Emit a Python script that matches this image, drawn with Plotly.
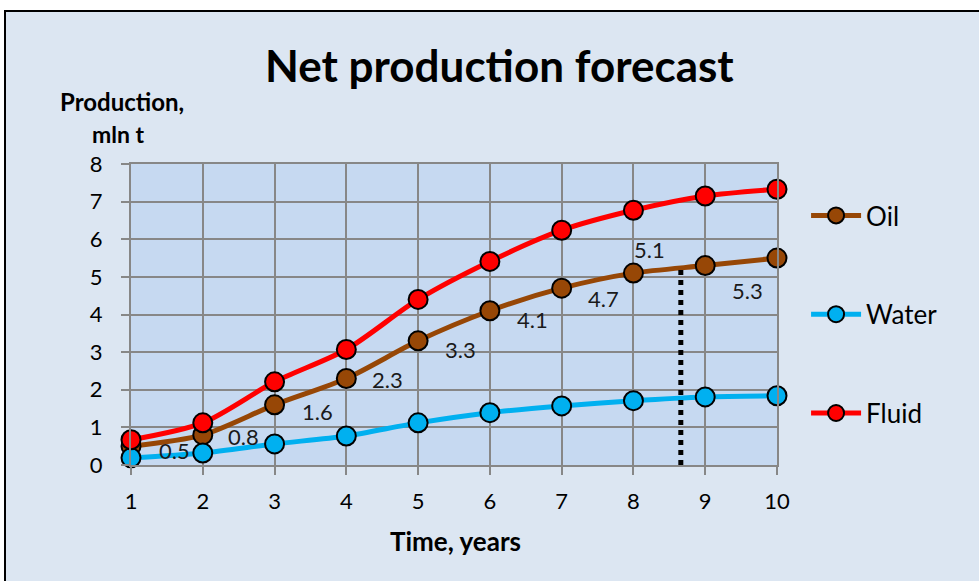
import plotly.graph_objects as go

# Forecast years
years = [1, 2, 3, 4, 5, 6, 7, 8, 9, 10]

# Net production, mln t
oil = [0.5, 0.8, 1.6, 2.3, 3.3, 4.1, 4.7, 5.1, 5.3, 5.5]
water = [0.19, 0.32, 0.56, 0.77, 1.12, 1.39, 1.57, 1.71, 1.81, 1.84]
fluid = [0.67, 1.12, 2.21, 3.07, 4.40, 5.41, 6.24, 6.77, 7.15, 7.33]

# Which oil points carry a value label (last one is unlabeled)
oil_labelled = [True, True, True, True, True, True, True, True, True, False]

# Marker of the forecast boundary
boundary_year = 8.66
boundary_top = 5.2

FONT = "Lato, 'Open Sans', sans-serif"
GRID = "#878787"

# Plot-area geometry in pixels
L, R, T, B = 131, 777, 164, 465
W, H = R - L, B - T


def px_x(p):
    return (p - L) / W


def px_y(p):
    return (B - p) / H


fig = go.Figure()

series = [
    ("Oil", oil, "#974706"),
    ("Water", water, "#00b0f0"),
    ("Fluid", fluid, "#ff0000"),
]
for name, vals, col in series:
    fig.add_trace(go.Scatter(
        x=years, y=vals, name=name, legendgroup=name,
        mode="lines+markers",
        line=dict(color=col, width=5, shape="spline", smoothing=0.8),
        marker=dict(size=19, color=col, line=dict(color="black", width=2)),
        cliponaxis=False,
    ))

# Vertical dotted line marking the boundary
fig.add_trace(go.Scatter(
    x=[boundary_year, boundary_year], y=[0, boundary_top],
    mode="lines", line=dict(color="black", width=5, dash="dot"),
    showlegend=False, hoverinfo="skip",
))

# Label offsets (px) for each oil value label
label_shift = [(43, -4), (41, -2), (43, -7), (41, -1), (42, -9),
               (43, -9), (42, -10), (16, 24), (42, -25), (0, 0)]

annotations = []
for x, v, show, (dx, dy) in zip(years, oil, oil_labelled, label_shift):
    if not show:
        continue
    annotations.append(dict(
        x=x, y=v, xref="x", yref="y", text=f"{v:.1f}", showarrow=False,
        xshift=dx, yshift=dy, xanchor="center", yanchor="middle",
        font=dict(family=FONT, size=22, color="#1a1a1a"),
    ))


def label(text, x, y, size):
    return dict(x=px_x(x), y=px_y(y), xref="paper", yref="paper",
                text=text, showarrow=False, xanchor="center", yanchor="middle",
                font=dict(family=FONT, size=size, color="black"))


annotations += [
    label("<b>Production,</b>", 122, 101, 24),
    label("<b>mln t</b>", 118, 134, 23),
    label("<b>Time, years</b>", 455, 541, 26),
    label("<b>Net production forecast</b>", 499, 65, 44),
]

shapes = [
    # chart area fill with border
    dict(type="rect", xref="paper", yref="paper", layer="below",
         x0=px_x(5), x1=px_x(990), y0=px_y(600), y1=px_y(11),
         fillcolor="#dce6f2", line=dict(color="black", width=2)),
    # plot area fill
    dict(type="rect", xref="paper", yref="paper", layer="below",
         x0=0, x1=1, y0=0, y1=1, fillcolor="#c6d9f1", line=dict(width=0)),
]

fig.update_layout(
    width=979, height=581,
    margin=dict(l=L, r=979 - R, t=T, b=581 - B),
    paper_bgcolor="white",
    plot_bgcolor="rgba(0,0,0,0)",
    font=dict(family=FONT, size=22, color="black"),
    showlegend=True,
    legend=dict(
        x=1.045, y=px_y(192), xanchor="left", yanchor="top",
        bgcolor="rgba(0,0,0,0)", font=dict(family=FONT, size=26),
        tracegroupgap=62, itemwidth=50,
    ),
    annotations=annotations,
    shapes=shapes,
)

fig.update_xaxes(
    range=[1, 10], tickmode="array", tickvals=years,
    showgrid=True, gridcolor=GRID, gridwidth=2,
    showline=True, linecolor=GRID, linewidth=2, mirror=True,
    ticks="outside", ticklen=8, tickwidth=2, tickcolor=GRID,
    ticklabelstandoff=8, zeroline=False,
    tickfont=dict(family=FONT, size=22),
)
fig.update_yaxes(
    range=[0, 8], dtick=1,
    showgrid=True, gridcolor=GRID, gridwidth=2,
    showline=True, linecolor=GRID, linewidth=2, mirror=True,
    ticks="outside", ticklen=8, tickwidth=2, tickcolor=GRID,
    ticklabelstandoff=14, zeroline=False,
    tickfont=dict(family=FONT, size=22),
)

fig.write_html("out.html")
